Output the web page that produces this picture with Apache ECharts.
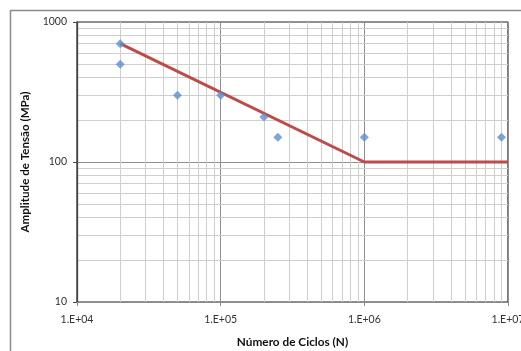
<!DOCTYPE html>
<html><head><meta charset="utf-8">
<script src="https://cdn.jsdelivr.net/npm/echarts@6/dist/echarts.min.js"></script>
<style>html,body{margin:0;padding:0;background:#fff;overflow:hidden}#c{width:521px;height:351px}</style>
</head><body><div id="c"></div>
<script>
// Data
const pointsN = [2e4, 2e4, 5e4, 1e5, 2e5, 2.5e5, 1e6, 9e6];
const pointsS = [700, 500, 300, 300, 210, 150, 150, 150];
const curveN = [2e4, 1e6, 1e7];
const curveS = [700, 100, 100];
const xTickLabels = {4: '1.E+04', 5: '1.E+05', 6: '1.E+06', 7: '1.E+07'};
const yTickLabels = {1: '10', 2: '100', 3: '1000'};

const xMinor = [];
for (let d = 1e4; d < 1e7; d *= 10) for (let k = 2; k <= 9; k++) xMinor.push(d * k);
const yMinor = [];
for (let d = 10; d < 1000; d *= 10) for (let k = 2; k <= 9; k++) yMinor.push(d * k);

const FONT = 'Lato';
const chart = echarts.init(document.getElementById('c'));
chart.setOption({
  animation: false,
  backgroundColor: '#fff',
  textStyle: {fontFamily: FONT},
  graphic: [{type: 'rect', shape: {x: 10.5, y: 10.5, width: 700, height: 600}, style: {fill: 'none', stroke: '#8c8c8c', lineWidth: 1.5}, z: -1}],
  grid: {left: 77, right: 13, top: 22, bottom: 49, show: true, borderColor: '#222', borderWidth: 1.2,
    backgroundColor: 'transparent', containLabel: false, outerBoundsMode: 'none'},
  xAxis: {
    type: 'log', logBase: 10, min: 1e4, max: 1e7,
    name: 'Número de Ciclos (N)', nameLocation: 'middle', nameGap: 34,
    nameTextStyle: {fontFamily: FONT, fontWeight: 'bold', fontSize: 11.8, color: '#111'},
    axisLine: {lineStyle: {color: '#8a8a8a', width: 1}},
    axisTick: {show: true, length: 4, lineStyle: {color: '#8a8a8a'}},
    axisLabel: {fontFamily: FONT, fontSize: 10.5, color: '#333', margin: 12,
      formatter: v => xTickLabels[Math.round(Math.log10(v))] || ''},
    splitLine: {show: true, lineStyle: {color: '#8f8f8f', width: 1}}
  },
  yAxis: {
    type: 'log', logBase: 10, min: 10, max: 1000,
    name: 'Amplitude de Tensão (MPa)', nameLocation: 'middle', nameGap: 43,
    nameTextStyle: {fontFamily: FONT, fontWeight: 'bold', fontSize: 11.6, color: '#111'},
    axisLine: {show: true, lineStyle: {color: '#444', width: 1.3}},
    axisTick: {show: true, length: 4, lineStyle: {color: '#444'}},
    axisLabel: {fontFamily: FONT, fontSize: 10.5, color: '#333', margin: 10,
      formatter: v => yTickLabels[Math.round(Math.log10(v))] || ''},
    splitLine: {show: true, lineStyle: {color: '#8f8f8f', width: 1}}
  },
  series: [
    {
      type: 'line', data: [], silent: true, z: 0,
      markLine: {
        silent: true, symbol: 'none', label: {show: false}, animation: false, z: 0,
        lineStyle: {color: '#cfcfcf', width: 1, type: 'solid'},
        data: xMinor.map(v => ({xAxis: v})).concat(yMinor.map(v => ({yAxis: v})))
      }
    },
    {
      type: 'line', data: curveN.map((n, i) => [n, curveS[i]]),
      showSymbol: false, symbol: 'none',
      lineStyle: {color: '#BE4B48', width: 3}, z: 3
    },
    {
      type: 'scatter', data: pointsN.map((n, i) => [n, pointsS[i]]),
      symbol: 'diamond', symbolSize: 9,
      itemStyle: {color: '#5B8FD0'}, z: 4
    }
  ]
});
</script></body></html>
